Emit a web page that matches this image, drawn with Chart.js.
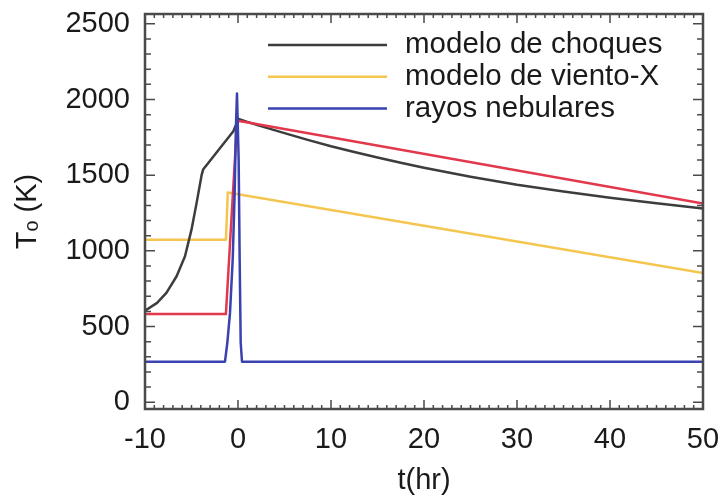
<!DOCTYPE html>
<html>
<head>
<meta charset="utf-8">
<script src="https://cdn.jsdelivr.net/npm/chart.js@4.4.1/dist/chart.umd.min.js"></script>
<style>
    html, body { margin: 0; padding: 0; background: #fff; }
    #wrap { width: 725px; height: 495px; }
</style>
</head>
<body>
<div id="wrap"><canvas id="chart" width="725" height="495"></canvas></div>
<script>
// Valores: t (hr) y T0 (K)
const choquesT = [-10, -8.7, -7.7, -6.6, -5.7, -5.0, -4.45, -3.9, -3.75, -0.5, 0.05, 1, 2, 3, 5, 7.5, 10, 12.5, 15, 17.5, 20, 25, 30, 35, 40, 45, 50];
const choquesK = [605, 656, 722, 832, 964, 1140, 1317, 1504, 1537, 1790, 1872, 1852, 1833, 1814, 1778, 1733, 1691, 1653, 1617, 1582, 1549, 1490, 1437, 1392, 1351, 1314, 1279];

const vientoT = [-10, -1.3, -1.1, 50];
const vientoK = [1074, 1074, 1385, 854];

const nebularesT = [-10, -1.4, -1.15, -0.86, -0.57, -0.36, -0.22, -0.11, 0.07, 0.18, 0.29, 0.43, 50];
const nebularesK = [268, 268, 391, 590, 942, 1383, 1823, 2040, 1603, 942, 393, 268, 268];

const rojoT = [-10, -1.3, -0.1, 0.15, 50];
const rojoK = [582, 582, 1850, 1858, 1312];

const xTicks = [-10, 0, 10, 20, 30, 40, 50];
const yTicks = [0, 500, 1000, 1500, 2000, 2500];

const FUENTE = '"Liberation Sans", Arial, Helvetica, sans-serif';

function puntos(ts, ks) {
    return ts.map((t, i) => ({ x: t, y: ks[i] }));
}

// Marco y marcas hacia dentro en los cuatro lados
const ejesPlugin = {
    id: 'ejes',
    afterDraw(chart) {
        const { ctx, chartArea: a, scales: { x, y } } = chart;
        ctx.save();
        ctx.strokeStyle = '#4a4a4a';
        ctx.lineWidth = 1.5;
        ctx.beginPath();
        for (let t = -10; t <= 50; t += 1) {
            const px = x.getPixelForValue(t);
            const len = t % 10 === 0 ? 9 : 4;
            ctx.moveTo(px, a.bottom); ctx.lineTo(px, a.bottom - len);
            ctx.moveTo(px, a.top); ctx.lineTo(px, a.top + len);
        }
        for (let v = 0; v <= 2500; v += 100) {
            const py = y.getPixelForValue(v);
            const len = v % 500 === 0 ? 10 : 6;
            ctx.moveTo(a.left, py); ctx.lineTo(a.left + len, py);
            ctx.moveTo(a.right, py); ctx.lineTo(a.right - len, py);
        }
        ctx.stroke();
        ctx.lineWidth = 2.5;
        ctx.strokeRect(a.left, a.top, a.right - a.left, a.bottom - a.top);
        ctx.restore();
    }
};

// Leyenda sin caja, arriba a la derecha
const leyendaPlugin = {
    id: 'leyenda',
    afterDraw(chart) {
        const { ctx, chartArea: a } = chart;
        ctx.save();
        ctx.font = '29.5px ' + FUENTE;
        ctx.textBaseline = 'middle';
        ctx.fillStyle = '#1a1a1a';
        let fila = 0;
        chart.data.datasets.forEach(ds => {
            if (!ds.label) return;
            const yy = a.top + 31 + fila * 31.7;
            ctx.strokeStyle = ds.borderColor;
            ctx.lineWidth = 2.5;
            ctx.beginPath();
            ctx.moveTo(a.left + 123, yy);
            ctx.lineTo(a.left + 242, yy);
            ctx.stroke();
            ctx.fillText(ds.label, a.left + 260, yy);
            fila++;
        });
        ctx.restore();
    }
};

const ctx = document.getElementById('chart');

new Chart(ctx, {
    type: 'line',
    data: {
        datasets: [
            {
                label: 'modelo de choques',
                data: puntos(choquesT, choquesK),
                borderColor: '#3d3d3d',
                borderWidth: 2.5,
                order: 2
            },
            {
                label: 'modelo de viento-X',
                data: puntos(vientoT, vientoK),
                borderColor: '#f5c64f',
                borderWidth: 2.5,
                order: 3
            },
            {
                label: 'rayos nebulares',
                data: puntos(nebularesT, nebularesK),
                borderColor: '#3a42b0',
                borderWidth: 2.5,
                order: 0
            },
            {
                label: '',
                data: puntos(rojoT, rojoK),
                borderColor: '#e2384c',
                borderWidth: 2.5,
                order: 1
            }
        ]
    },
    options: {
        responsive: false,
        animation: false,
        devicePixelRatio: 1,
        layout: {
            padding: { top: 14, right: 22, bottom: 0, left: 0 }
        },
        elements: {
            point: { radius: 0 },
            line: { tension: 0, borderJoinStyle: 'round', borderCapStyle: 'round' }
        },
        plugins: {
            legend: { display: false },
            tooltip: { enabled: false }
        },
        scales: {
            x: {
                type: 'linear',
                min: -10,
                max: 50,
                grid: { display: false, drawTicks: false },
                border: { display: false },
                afterBuildTicks: (scale) => {
                    scale.ticks = xTicks.map(v => ({ value: v }));
                },
                afterFit: (scale) => {
                    scale.height = 86;
                    scale.paddingLeft = 0;
                    scale.paddingRight = 0;
                },
                ticks: {
                    maxRotation: 0,
                    autoSkip: false,
                    padding: 14,
                    color: '#1a1a1a',
                    font: { family: FUENTE, size: 29 },
                    callback: (v) => String(v)
                },
                title: {
                    display: true,
                    text: 't(hr)',
                    color: '#1a1a1a',
                    padding: 0,
                    font: { family: FUENTE, size: 29, lineHeight: 1 }
                }
            },
            y: {
                min: -45,
                max: 2565,
                grid: { display: false, drawTicks: false },
                border: { display: false },
                afterBuildTicks: (scale) => {
                    scale.ticks = yTicks.map(v => ({ value: v }));
                },
                afterFit: (scale) => {
                    scale.width = 145;
                    scale.paddingTop = 0;
                    scale.paddingBottom = 0;
                },
                ticks: {
                    padding: 15,
                    color: '#1a1a1a',
                    font: { family: FUENTE, size: 29 },
                    callback: (v) => String(v)
                },
                title: {
                    display: true,
                    text: 'Tₒ (K)',
                    color: '#1a1a1a',
                    padding: { top: 13, bottom: 0 },
                    font: { family: FUENTE, size: 29, lineHeight: 1 }
                }
            }
        }
    },
    plugins: [ejesPlugin, leyendaPlugin]
});
</script>
</body>
</html>
